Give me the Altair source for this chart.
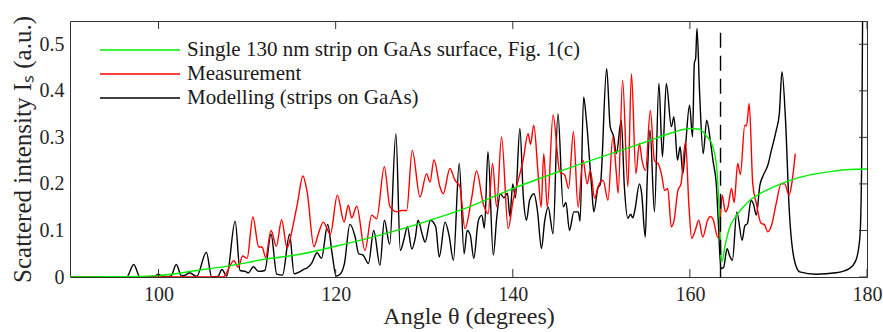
import altair as alt
import pandas as pd

# ---------------- data ----------------
series_names = ["Single 130 nm strip on GaAs surface, Fig. 1(c)", "Measurement", "Modelling (strips on GaAs)"]
series_colors = ["#00ee00", "#ff0000", "#000000"]

green_x = [90, 95, 100, 105, 108, 110, 112, 116, 120, 125, 130, 135, 140, 145, 150, 155, 158, 160, 161,
           162, 162.5, 163, 163.3, 163.6, 164, 164.5, 165, 166, 167, 168, 170, 172, 174, 176, 178, 180]
green_y = [0, 0.0005, 0.003, 0.016, 0.024, 0.031, 0.038, 0.049, 0.066, 0.09, 0.118, 0.15, 0.19, 0.225,
           0.258, 0.29, 0.31, 0.319, 0.318, 0.30, 0.285, 0.24, 0.15, 0.032, 0.07, 0.107, 0.125, 0.15,
           0.168, 0.18, 0.198, 0.212, 0.221, 0.227, 0.231, 0.232]

red_x = [90, 107.3, 108.5, 109.0, 109.5, 110.0, 110.65, 111.3, 111.7, 112.1, 112.7, 113.3, 113.9, 114.5,
         115.2, 115.7, 116.3, 116.8, 117.55, 118.0, 118.6, 119.4, 120.19, 120.95, 121.43, 121.81, 122.38,
         123.31, 124.07, 124.63, 125.49, 126.13, 126.89, 127.45, 128.02, 128.65, 129.52, 130.27, 130.65,
         131.1, 131.77, 132.15, 132.9, 133.47, 134.03, 134.6, 135.35, 135.91, 136.66, 137.22, 137.72,
         138.17, 138.73, 139.48, 140.04, 140.42, 141.17, 141.73, 142.0, 142.37, 142.86, 143.2, 143.5,
         143.9, 144.55, 145.3, 145.87, 146.3, 146.85, 147.37, 147.93, 148.4, 148.76, 149.25, 149.62,
         150.2, 150.75, 151.3, 151.7, 151.9, 152.4, 153.0, 153.4, 153.9, 154.3, 154.6, 155.0, 155.53,
         156.0, 156.4, 156.8, 157.15, 157.5, 157.9, 158.2, 158.65, 159.0, 159.5, 159.9, 160.2, 160.6,
         161.0, 161.46, 162.0, 162.3, 162.6, 163.16, 163.3, 163.65, 164.0, 164.3, 164.7, 165.0, 165.4,
         165.7, 166.2, 166.4, 166.7, 167.1, 167.5, 168.05, 168.4, 168.8, 169.2, 169.75, 170.3, 170.7,
         171.2, 171.5, 171.9]
red_y = [0, 0.0, 0.035, 0.021, 0.045, 0.04, 0.129, 0.065, 0.064, 0.042, 0.1, 0.066, 0.123, 0.063,
         0.112, 0.16, 0.217, 0.18, 0.065, 0.09, 0.118, 0.092, 0.176, 0.118, 0.154, 0.127, 0.152,
         0.057, 0.133, 0.125, 0.237, 0.151, 0.14, 0.143, 0.143, 0.272, 0.172, 0.222, 0.204,
         0.252, 0.194, 0.179, 0.233, 0.208, 0.194, 0.104, 0.169, 0.228, 0.158, 0.136, 0.244,
         0.151, 0.301, 0.104, 0.165, 0.194, 0.251, 0.308, 0.285, 0.326, 0.222, 0.15, 0.265,
         0.15, 0.348, 0.226, 0.219, 0.19, 0.312, 0.15, 0.251, 0.2, 0.229, 0.169, 0.194,
         0.208, 0.165, 0.301, 0.222, 0.18, 0.423, 0.194, 0.437, 0.222, 0.287, 0.25, 0.229, 0.358,
         0.25, 0.244, 0.22, 0.186, 0.19, 0.108, 0.12, 0.186, 0.2, 0.29, 0.15, 0.083, 0.1,
         0.122, 0.086, 0.122, 0.13, 0.125, 0.085, 0.09, 0.176, 0.14, 0.15, 0.19, 0.16, 0.244,
         0.22, 0.326, 0.325, 0.373, 0.2, 0.158, 0.115, 0.113, 0.097, 0.11, 0.158, 0.2, 0.2,
         0.176, 0.2, 0.265]

black_x = [90, 96.4, 97.2, 97.9, 99.5, 100.0, 100.5, 101.4, 102.0, 102.6, 103.0, 103.5, 104.3, 105.4,
           106.0, 106.7, 107.15, 107.7, 108.65, 109.2, 109.8, 110.15, 110.7, 111.3, 112.0, 112.7, 113.35,
           114.0, 114.8, 115.3, 115.8, 116.35, 116.8, 117.3, 117.9, 118.4, 119.1, 119.6, 120.05, 120.5,
           121.0, 121.6, 122.2, 122.6, 123.1, 123.7, 124.3, 125.0, 125.5, 126.1, 126.8, 127.3, 127.7,
           128.1, 128.6, 129.0, 129.3, 129.8, 130.1, 130.7, 131.3, 131.7, 132.35, 132.8, 133.3, 133.95,
           134.5, 134.85, 135.2, 135.6, 136.1, 136.5, 136.8, 137.2, 137.8, 138.2, 138.6, 139.0, 139.4,
           139.67, 140.0, 140.3, 140.8, 141.2, 141.55, 141.9, 142.4, 142.8, 143.24, 143.6, 144.0, 144.55,
           145.1, 145.7, 146.0, 146.4, 146.9, 147.4, 147.6, 148.0, 148.3, 148.9, 149.15, 149.6, 149.9,
           150.6, 151.0, 151.4, 151.7, 152.25, 152.6, 153.0, 153.3, 153.55, 153.8, 154.3, 154.55, 154.96,
           155.2, 155.5, 156.0, 156.5, 156.9, 157.34, 157.9, 158.2, 158.6, 158.9, 159.2, 159.5, 159.96,
           160.3, 160.5, 160.65, 160.8, 161.1, 161.5, 161.9, 162.3, 162.6, 163.0, 163.2, 163.5, 163.8,
           164.2, 164.5, 164.8, 165.3, 165.9, 166.2, 166.5, 166.9, 167.2, 167.5, 167.9, 168.3, 168.8,
           169.2, 169.75, 170.1, 170.4, 170.8, 171.2, 171.8, 172.4, 174.25, 176.5, 178.0, 178.75, 179.2,
           179.4, 179.55]
black_y = [0, 0.0, 0.027, 0.0, 0.001, 0.006, 0.0, 0.002, 0.027, 0.002, 0.004, 0.009, 0.001, 0.053,
           0.0, 0.001, 0.016, 0.002, 0.12, 0.014, 0.012, 0.009, 0.022, 0.012, 0.014, 0.092, 0.006,
           0.004, 0.092, 0.007, 0.01, 0.016, 0.02, 0.03, 0.052, 0.04, 0.113, 0.05, 0.002, 0.006,
           0.03, 0.113, 0.086, 0.05, 0.047, 0.029, 0.1, 0.025, 0.122, 0.07, 0.308, 0.057, 0.08,
           0.108, 0.06, 0.085, 0.122, 0.09, 0.075, 0.122, 0.108, 0.043, 0.118, 0.09, 0.036, 0.244,
           0.05, 0.1, 0.09, 0.04, 0.12, 0.133, 0.105, 0.269, 0.047, 0.13, 0.179, 0.17, 0.18,
           0.13, 0.2, 0.17, 0.319, 0.17, 0.122, 0.165, 0.179, 0.14, 0.061, 0.12, 0.15, 0.093,
           0.351, 0.151, 0.16, 0.1, 0.14, 0.14, 0.12, 0.387, 0.34, 0.194, 0.14, 0.19, 0.2,
           0.448, 0.323, 0.301, 0.265, 0.337, 0.194, 0.126, 0.135, 0.127, 0.145, 0.2, 0.18, 0.086,
           0.22, 0.316, 0.14, 0.416, 0.258, 0.416, 0.323, 0.344, 0.251, 0.28, 0.222, 0.28, 0.369,
           0.301, 0.459, 0.47, 0.534, 0.394, 0.265, 0.337, 0.294, 0.251, 0.194, 0.122, 0.018, 0.02,
           0.061, 0.045, 0.036, 0.14, 0.079, 0.11, 0.115, 0.165, 0.155, 0.133, 0.197, 0.219, 0.24,
           0.272, 0.315, 0.351, 0.441, 0.337, 0.151, 0.036, 0.011, 0.006, 0.009, 0.018, 0.036, 0.086,
           0.25, 0.7]

x_ticks = [100, 120, 140, 160, 180]
y_ticks = [0, 0.1, 0.2, 0.3, 0.4, 0.5]
dashed_x = [163.46]

# ---------------- build ----------------
W, H = 797, 256
FONT = "Liberation Serif"
FRAME = "#333333"
TXT = "#262626"

frames = []
for name, xs, ys in [(series_names[0], green_x, green_y),
                     (series_names[1], red_x, red_y),
                     (series_names[2], black_x, black_y)]:
    frames.append(pd.DataFrame({"angle": xs, "value": ys, "series": name}))
df = pd.concat(frames, ignore_index=True)

xscale = alt.Scale(domain=[90, 180], nice=False, zero=False)
yscale = alt.Scale(domain=[0, 0.55], nice=False)

xaxis = alt.Axis(values=x_ticks, title="Angle θ (degrees)", labelPadding=7, titlePadding=0,
                 domain=False, ticks=False, grid=False, labelFlush=False,
                 labelFont=FONT, labelFontSize=20, labelColor=TXT,
                 titleFont=FONT, titleFontSize=24, titleFontWeight="normal", titleColor=TXT)
yaxis = alt.Axis(values=y_ticks, title="Scattered intensity Iₛ (a.u.)", labelPadding=6, titlePadding=4,
                 domain=False, ticks=False, grid=False,
                 labelFont=FONT, labelFontSize=20, labelColor=TXT,
                 titleFont=FONT, titleFontSize=25, titleFontWeight="normal", titleColor=TXT,
                 labelExpr="datum.value == 0 ? '0' : format(datum.value, '.1f')")

layers = []
# draw order: black, red, green on top
for name, col in [(series_names[2], series_colors[2]), (series_names[1], series_colors[1]),
                  (series_names[0], series_colors[0])]:
    sub = df[df["series"] == name]
    layers.append(
        alt.Chart(sub).mark_line(color=col, strokeWidth=1.4, interpolate="monotone", clip=True).encode(
            x=alt.X("angle:Q", scale=xscale, axis=xaxis),
            y=alt.Y("value:Q", scale=yscale, axis=yaxis),
            order="angle:Q",
        )
    )

dash_df = pd.DataFrame({"angle": dashed_x, "lo": [0.0], "hi": [0.525]})
layers.append(
    alt.Chart(dash_df).mark_rule(color="#000000", strokeWidth=1.4, strokeDash=[15, 8]).encode(
        x=alt.X("angle:Q", scale=xscale),
        y=alt.Y("hi:Q", scale=yscale),
        y2="lo:Q",
    )
)

# inward ticks (bottom, top, right)
xt = pd.DataFrame({"t": x_ticks})
yt = pd.DataFrame({"t": y_ticks})
layers.append(alt.Chart(xt).mark_rule(color=FRAME, strokeWidth=1).encode(
    x=alt.X("t:Q", scale=xscale), y=alt.value(H), y2=alt.value(H - 8)))
layers.append(alt.Chart(xt).mark_rule(color=FRAME, strokeWidth=1).encode(
    x=alt.X("t:Q", scale=xscale), y=alt.value(0), y2=alt.value(8)))
layers.append(alt.Chart(yt).mark_rule(color=FRAME, strokeWidth=1).encode(
    y=alt.Y("t:Q", scale=yscale), x=alt.value(W), x2=alt.value(W - 8)))

# legend (manual)
for i, (name, col) in enumerate(zip(series_names, series_colors)):
    ypix = 29 + 24 * i
    layers.append(alt.Chart(pd.DataFrame({"n": [name]})).mark_rule(color=col, strokeWidth=1.5).encode(
        x=alt.value(30), x2=alt.value(110), y=alt.value(ypix)))
    layers.append(alt.Chart(pd.DataFrame({"n": [name]})).mark_text(
        align="left", baseline="middle", font=FONT, fontSize=21, color="#1a1a1a").encode(
        x=alt.value(117), y=alt.value(ypix), text="n:N"))

chart = alt.layer(*layers).properties(
    width=W, height=H,
    background="white",
    padding={"left": 70, "top": 21, "right": 16, "bottom": 55},
    autosize=alt.AutoSizeParams(type="none"),
).configure_view(stroke=FRAME, strokeWidth=1)

chart.save("out.html", embed_options={"renderer": "svg", "actions": False})
